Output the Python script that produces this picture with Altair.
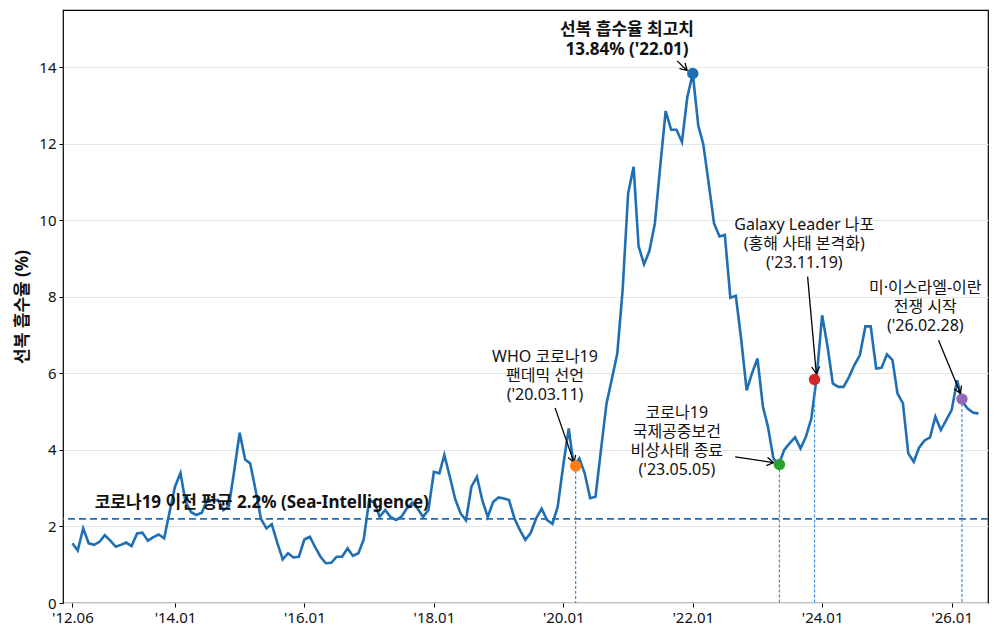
import math
import altair as alt
import pandas as pd

# ---------------- data ----------------
absorption = [
    1.56, 1.37, 1.95, 1.56, 1.52, 1.60, 1.77, 1.63, 1.47, 1.52, 1.58, 1.49,
    1.82, 1.84, 1.63, 1.72, 1.79, 1.69, 2.37, 3.04, 3.40, 2.65, 2.38, 2.30,
    2.36, 2.69, 2.69, 2.69, 2.43, 2.53, 3.45, 4.45, 3.75, 3.65, 2.95, 2.20,
    1.95, 2.06, 1.58, 1.14, 1.30, 1.19, 1.21, 1.66, 1.73, 1.47, 1.21, 1.04,
    1.05, 1.21, 1.21, 1.43, 1.23, 1.30, 1.66, 2.69, 2.62, 2.25, 2.43, 2.25,
    2.17, 2.25, 2.47, 2.62, 2.47, 2.25, 2.43, 3.43, 3.39, 3.87, 3.30, 2.72,
    2.34, 2.16, 3.04, 3.30, 2.69, 2.25, 2.64, 2.76, 2.73, 2.69, 2.21, 1.91,
    1.65, 1.83, 2.21, 2.47, 2.17, 2.07, 2.52, 3.60, 4.56, 3.56, 3.78, 3.39,
    2.74, 2.78, 4.00, 5.21, 5.85, 6.52, 8.17, 10.70, 11.40, 9.33, 8.85, 9.20,
    9.92, 11.40, 12.86, 12.37, 12.37, 12.05, 13.22, 13.84, 12.48, 12.00, 10.96, 9.92,
    9.58, 9.62, 7.98, 8.03, 6.90, 5.56, 6.00, 6.39, 5.13, 4.61, 3.78, 3.62,
    4.00, 4.17, 4.33, 4.04, 4.34, 4.82, 5.90, 7.52, 6.69, 5.74, 5.65, 5.65,
    5.91, 6.22, 6.48, 7.23, 7.23, 6.13, 6.15, 6.50, 6.35, 5.48, 5.22, 3.91,
    3.69, 4.06, 4.25, 4.33, 4.87, 4.52, 4.78, 5.04, 5.82, 5.27, 5.08, 4.98,
    4.95,
]
first_month = "2012-06-01"
months = [d.strftime("%Y-%m-%d") for d in pd.date_range(first_month, periods=len(absorption), freq="MS")]

pre_covid_avg = 2.2
pre_covid_label = "코로나19 이전 평균 2.2% (Sea-Intelligence)"
pre_covid_label_date = "2012-10-05"
pre_covid_label_value = 2.61

peak_date = "2022-01-01"
peak_value = 13.84

event_dates = ["2020-03-11", "2023-05-05", "2023-11-19", "2026-02-28"]
event_values = [3.58, 3.62, 5.84, 5.33]
event_colors = ["#ff7f0e", "#2ca02c", "#d62728", "#9467bd"]

annot_texts = [
    "선복 흡수율 최고치\n13.84% ('22.01)",
    "WHO 코로나19\n팬데믹 선언\n('20.03.11)",
    "코로나19\n국제공중보건\n비상사태 종료\n('23.05.05)",
    "Galaxy Leader 나포\n(홍해 사태 본격화)\n('23.11.19)",
    "미·이스라엘-이란\n전쟁 시작\n('26.02.28)",
]
annot_bold = [True, False, False, False, False]
# position of the first text line
annot_dates = ["2020-12-26", "2019-09-20", "2021-10-03", "2023-09-22", "2025-08-05"]
annot_values = [14.98, 6.43, 4.97, 9.88, 8.23]

arrow_start_dates = ["2021-10-05", "2019-11-16", "2022-08-28", "2023-10-11", "2025-10-19"]
arrow_start_values = [14.17, 5.10, 3.82, 8.53, 6.87]
arrow_end_dates = ["2021-11-30", "2020-03-02", "2023-04-02", "2023-11-29", "2026-02-19"]
arrow_end_values = [13.92, 3.67, 3.67, 6.00, 5.48]

x_tick_dates = ["2012-06-01", "2014-01-01", "2016-01-01", "2018-01-01",
                "2020-01-01", "2022-01-01", "2024-01-01", "2026-01-01"]
y_ticks = [0, 2, 4, 6, 8, 10, 12, 14]
x_domain = ["2012-04-09", "2026-07-25"]
y_domain = [0, 15.5]

# ---------------- layout / style ----------------
W, H = 925, 593
LINE_BLUE = "#1f6fb4"
FONT = "Noto Sans, Noto Sans CJK KR"


def dt(s):
    t = pd.Timestamp(s)
    return alt.DateTime(year=t.year, month=t.month, date=t.day, utc=True)


def ms(s):
    return pd.Timestamp(s, tz="UTC").value / 1e6


def px(date, value):
    x = W * (ms(date) - ms(x_domain[0])) / (ms(x_domain[1]) - ms(x_domain[0]))
    y = H * (1 - (value - y_domain[0]) / (y_domain[1] - y_domain[0]))
    return x, y


angles = []
for sd, sv, ed, ev in zip(arrow_start_dates, arrow_start_values, arrow_end_dates, arrow_end_values):
    x0, y0 = px(sd, sv)
    x1, y1 = px(ed, ev)
    angles.append(math.degrees(math.atan2(y1 - y0, x1 - x0)) % 360)

line_df = pd.DataFrame({"date": months, "value": absorption})
avg_df = pd.DataFrame({"value": [pre_covid_avg], "label": [pre_covid_label],
                       "ldate": [pre_covid_label_date], "lvalue": [pre_covid_label_value]})
event_df = pd.DataFrame({"date": event_dates, "value": event_values, "color": event_colors})
dots_df = pd.DataFrame({"date": event_dates + [peak_date],
                        "value": event_values + [peak_value],
                        "color": event_colors + [LINE_BLUE]})
annot_df = pd.DataFrame({"date": annot_dates, "value": annot_values,
                         "text": annot_texts, "bold": annot_bold})
arrow_df = pd.DataFrame({"sd": arrow_start_dates, "sv": arrow_start_values,
                         "ed": arrow_end_dates, "ev": arrow_end_values, "angle": angles})

x_scale = alt.Scale(type="utc", domain=[dt(d) for d in x_domain])
y_scale = alt.Scale(domain=y_domain, nice=False, zero=False)

x_axis = alt.Axis(
    values=[dt(d) for d in x_tick_dates],
    labelExpr="\"'\" + utcFormat(datum.value, '%y.%m')",
    title=None, grid=False, domain=False,
    tickColor="black", tickSize=4, tickWidth=1,
    labelFontSize=15, labelColor="#111", labelPadding=3, labelFlush=False,
)
y_axis = alt.Axis(
    values=y_ticks, title="선복 흡수율 (%)", grid=True, gridColor="#e6e6e6", gridWidth=1,
    domain=False, tickColor="black", tickSize=4, tickWidth=1,
    labelFontSize=15, labelColor="#111", labelPadding=3,
    titleFontSize=17, titleFontWeight="bold", titleColor="#111", titlePadding=7,
)

base_x = alt.X("date:T", scale=x_scale, axis=x_axis)
base_y = alt.Y("value:Q", scale=y_scale, axis=y_axis)

line = alt.Chart(line_df).mark_line(color=LINE_BLUE, strokeWidth=2.6).encode(x=base_x, y=base_y)

avg_rule = alt.Chart(avg_df).mark_rule(color=LINE_BLUE, strokeWidth=1.8, strokeDash=[7, 4]).encode(
    y=alt.Y("value:Q", scale=y_scale))

avg_text = alt.Chart(avg_df).mark_text(align="left", baseline="middle", fontSize=17,
                                       fontWeight="bold", color="#111").encode(
    x=alt.X("ldate:T", scale=x_scale), y=alt.Y("lvalue:Q", scale=y_scale), text="label:N")

vrules = alt.Chart(event_df).mark_rule(color="#3b8fd4", strokeWidth=1.2, strokeDash=[3, 2]).encode(
    x=alt.X("date:T", scale=x_scale), y=alt.Y("value:Q", scale=y_scale), y2=alt.datum(0))

arrow_lines = alt.Chart(arrow_df).mark_rule(color="black", strokeWidth=1.3).encode(
    x=alt.X("sd:T", scale=x_scale), y=alt.Y("sv:Q", scale=y_scale),
    x2="ed:T", y2="ev:Q")

arrow_heads = alt.Chart(arrow_df).mark_point(
    shape="M-1,-0.6L0,0L-1,0.6", filled=False, stroke="black", strokeWidth=1.3,
    size=180, opacity=1).encode(
    x=alt.X("ed:T", scale=x_scale), y=alt.Y("ev:Q", scale=y_scale),
    angle=alt.Angle("angle:Q", scale=None))

dots = alt.Chart(dots_df).mark_circle(size=130, opacity=1).encode(
    x=alt.X("date:T", scale=x_scale), y=alt.Y("value:Q", scale=y_scale),
    color=alt.Color("color:N", scale=None))

annot_regular = alt.Chart(annot_df).transform_filter("!datum.bold").mark_text(
    align="center", baseline="middle", fontSize=16, lineBreak="\n", lineHeight=19,
    color="#111").encode(
    x=alt.X("date:T", scale=x_scale), y=alt.Y("value:Q", scale=y_scale), text="text:N")

annot_bold_layer = alt.Chart(annot_df).transform_filter("datum.bold").mark_text(
    align="center", baseline="middle", fontSize=17, fontWeight="bold", lineBreak="\n",
    lineHeight=20, color="#111").encode(
    x=alt.X("date:T", scale=x_scale), y=alt.Y("value:Q", scale=y_scale), text="text:N")

chart = alt.layer(
    line, avg_rule, vrules, avg_text, arrow_lines, arrow_heads, dots, annot_regular, annot_bold_layer
).properties(
    width=W, height=H,
    autosize=alt.AutoSizeParams(type="none"),
    padding={"left": 55, "top": 2, "right": 4, "bottom": 30},
).configure(
    font=FONT,
).configure_view(
    stroke="black", strokeWidth=1.2,
)

chart.save("out.html", embed_options={"renderer": "svg", "actions": False})
